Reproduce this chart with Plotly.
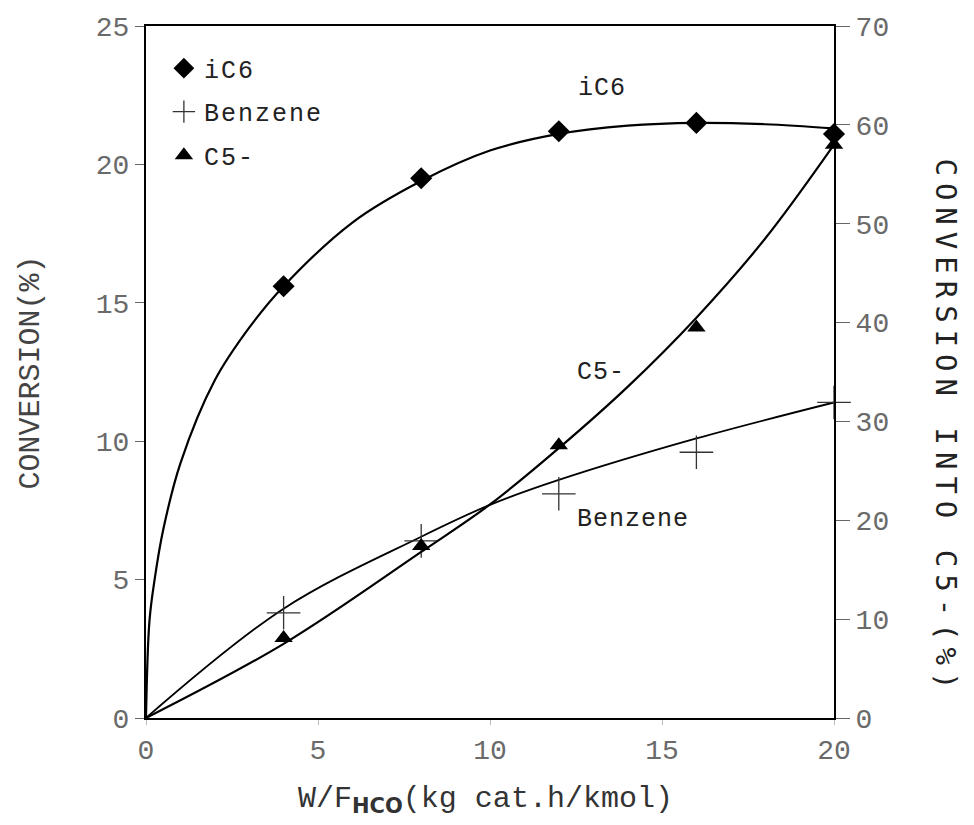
import plotly.graph_objects as go

# measured data points
x_pts = [4, 8, 12, 16, 20]
ic6_pts = [15.6, 19.5, 21.2, 21.5, 21.1]          # left axis
benzene_pts = [3.8, 6.4, 8.1, 9.6, 11.4]          # left axis
c5_pts = [8.1, 17.4, 27.6, 39.5, 58.0]            # right axis

# fitted curves
ic6_cx = [0, 0.1, 0.25, 0.5, 1, 2, 3, 4, 6, 8, 10, 12, 14, 16, 18, 20]
ic6_cy = [0, 3.5, 5.0, 6.8, 9.2, 12.2, 14.1, 15.6, 17.9, 19.4, 20.5, 21.1, 21.4, 21.5, 21.45, 21.3]
benz_cx = [0, 4, 8, 10, 12, 16, 20]
benz_cy = [0, 3.95, 6.55, 7.7, 8.6, 10.1, 11.4]
c5_cx = [0, 4, 8, 10, 12, 14, 16, 18, 20]
c5_cy = [0, 7.5, 16.8, 21.6, 27.3, 33.5, 40.5, 48.5, 58.0]

series_names = ["iC6", "Benzene", "C5-"]

MONO = "Liberation Mono, Courier New, monospace"
TICKC = "#6a6a6a"

def spaced(t, s):
    return "<span style='letter-spacing:%spx'>%s</span>" % (s, t)

fig = go.Figure()
line = dict(color="black", width=2.2, shape="spline")
fig.add_trace(go.Scatter(x=ic6_cx, y=ic6_cy, mode="lines", line=line, showlegend=False, hoverinfo="skip"))
fig.add_trace(go.Scatter(x=benz_cx, y=benz_cy, mode="lines", line=dict(color="black", width=1.8, shape="spline"), showlegend=False, hoverinfo="skip"))
fig.add_trace(go.Scatter(x=c5_cx, y=c5_cy, mode="lines", line=line, showlegend=False, hoverinfo="skip", yaxis="y2"))

fig.add_trace(go.Scatter(x=x_pts, y=ic6_pts, mode="markers", name=spaced(series_names[0], 2), legendgroup="a",
                         cliponaxis=False,
                         marker=dict(symbol="diamond", size=17, color="black")))
fig.add_trace(go.Scatter(x=x_pts, y=benzene_pts, mode="markers", name=spaced(series_names[1], 2), legendgroup="b",
                         cliponaxis=False,
                         marker=dict(symbol="cross-thin-open", size=24, color="#333",
                                     line=dict(color="#333", width=1.3))))
fig.add_trace(go.Scatter(x=x_pts, y=c5_pts, mode="markers", name=spaced(series_names[2], 2), yaxis="y2", legendgroup="c",
                         cliponaxis=False,
                         marker=dict(symbol="triangle-up", size=16, color="black")))

def px(xp):
    return (xp - 145) / 688.0

def py(yp):
    return (718 - yp) / 693.0

LBL = dict(family=MONO, size=25, color="#222")
C = dict(xanchor="center", yanchor="middle", xref="paper", yref="paper", showarrow=False)
annos = [
    dict(x=px(601), y=py(88), text=spaced("iC6", 1), font=LBL, **C),
    dict(x=px(600), y=py(372), text=spaced("C5-", 1), font=LBL, **C),
    dict(x=px(632), y=py(519), text=spaced("Benzene", 1), font=LBL, **C),
    dict(x=px(30), y=py(372), text="CONVERSION(%)", textangle=-90,
         font=dict(family=MONO, size=30, color="#444"), **C),
    dict(x=px(945), y=py(427), text=spaced("CONVERSION INTO C5-(%)", 7), textangle=90,
         font=dict(family="DejaVu Sans Mono, monospace", size=29, color="#222"), **C),
    dict(x=px(484), y=py(800),
         text="W/F<sub><b><span style='font-family:DejaVu Sans'>HCO</span></b></sub>(kg cat.h/kmol)",
         font=dict(family=MONO, size=30, color="#333"), **C),
]

fig.update_layout(
    width=974, height=825,
    margin=dict(l=138, r=148, t=18, b=115, autoexpand=False),
    paper_bgcolor="white", plot_bgcolor="white",
    showlegend=True,
    legend=dict(x=0.026, y=0.972, xanchor="left", yanchor="top", bgcolor="rgba(0,0,0,0)",
                font=dict(family=MONO, size=25, color="#222"), tracegroupgap=8, itemsizing="trace"),
    xaxis=dict(range=[0, 20], tickvals=[0, 5, 10, 15, 20], showgrid=False, zeroline=False,
               showline=True, linecolor="black", linewidth=2, mirror=True, automargin=False,
               ticks="outside", ticklen=5, tickcolor="#bbb",
               tickfont=dict(family=MONO, size=28, color=TICKC)),
    yaxis=dict(range=[0, 25], tickvals=[0, 5, 10, 15, 20, 25], showgrid=False, zeroline=False,
               showline=True, linecolor="black", linewidth=2, automargin=False,
               ticks="outside", ticklen=9, tickcolor="#666",
               tickfont=dict(family=MONO, size=28, color=TICKC)),
    yaxis2=dict(range=[0, 70], tickvals=[0, 10, 20, 30, 40, 50, 60, 70], overlaying="y", side="right",
                showgrid=False, zeroline=False, showline=True, linecolor="black", linewidth=2,
                automargin=False,
                ticks="outside", ticklen=14, tickcolor="#666",
                tickfont=dict(family=MONO, size=28, color=TICKC)),
    annotations=annos,
)

fig.write_html("out.html")
